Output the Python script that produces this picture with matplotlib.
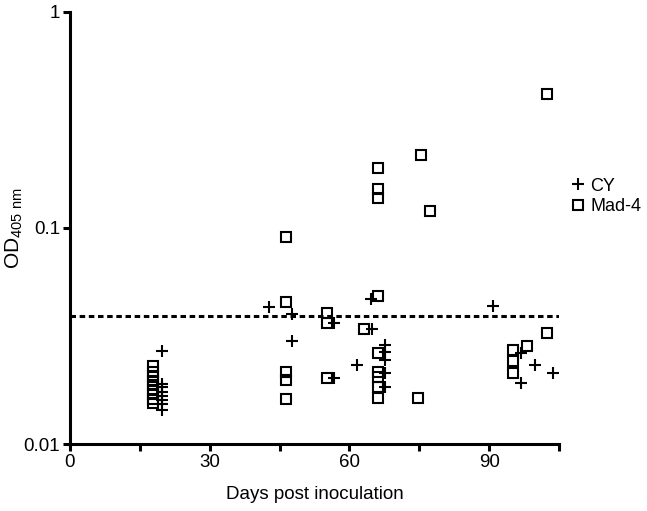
import numpy as np
import matplotlib
matplotlib.use('Agg')
import matplotlib.pyplot as plt

plt.rcParams['font.family'] = ['Liberation Sans', 'DejaVu Sans']

# CY (+) samples: day, OD405
cy_days = [19.8, 19.8, 19.8, 19.8, 19.8, 19.8, 19.8, 19.8,
           42.7, 47.7, 47.7, 56.7, 56.7,
           61.6, 64.7, 64.9, 67.7, 67.7, 67.7, 67.7, 67.7,
           90.8, 96.9, 96.9, 99.9, 103.7]
cy_od = [0.027, 0.019, 0.0184, 0.0175, 0.0167, 0.016, 0.0153, 0.0144,
         0.043, 0.040, 0.030, 0.0363, 0.0202,
         0.0232, 0.047, 0.034, 0.0287, 0.0267, 0.0245, 0.0213, 0.0184,
         0.0435, 0.0264, 0.0192, 0.0232, 0.0213]

# Mad-4 (square) samples
mad_days = [17.8, 17.8, 17.8, 17.8, 17.8, 17.8, 17.8, 17.8, 17.8,
            46.4, 46.4, 46.4, 46.4, 46.4,
            55.2, 55.2, 55.2,
            63.1, 66.2, 66.2, 66.2, 66.2, 66.2, 66.2, 66.2, 66.2, 66.2,
            74.7, 75.4, 77.3,
            95.2, 95.2, 95.2, 98.2, 102.4, 102.4]
mad_od = [0.023, 0.0215, 0.0205, 0.0195, 0.0187, 0.0178, 0.017, 0.0162, 0.0155,
          0.0908, 0.0454, 0.0215, 0.0198, 0.0162,
          0.0404, 0.0363, 0.0202,
          0.034, 0.19, 0.1515, 0.1377, 0.0484, 0.0264, 0.0215, 0.0204, 0.0184, 0.0163,
          0.0163, 0.218, 0.12,
          0.0272, 0.0242, 0.0213, 0.0284, 0.417, 0.0326]

cutoff = 0.039

fig = plt.figure(figsize=(6.47, 5.11), dpi=100)
ax = fig.add_axes([0.108, 0.131, 0.756, 0.846])

ax.plot(cy_days, cy_od, linestyle='none', marker='+', markersize=9,
        markeredgewidth=1.5, color='black', label='CY', clip_on=False)
ax.plot(mad_days, mad_od, linestyle='none', marker='s', markersize=7.5,
        markeredgewidth=1.5, markerfacecolor='none', markeredgecolor='black',
        label='Mad-4', clip_on=False)
ax.plot([0, 105], [cutoff, cutoff], color='black', linewidth=2.2,
        linestyle=(0, (1.8, 1.2)))

ax.set_yscale('log')
ax.set_ylim(0.01, 1)
ax.set_xlim(0, 105)
ax.set_yticks([0.01, 0.1, 1])
ax.set_yticklabels(['0.01', '0.1', '1'])
ax.yaxis.set_minor_locator(matplotlib.ticker.NullLocator())
ax.set_xticks([0, 15, 30, 45, 60, 75, 90, 105])
ax.set_xticklabels(['0', '', '30', '', '60', '', '90', ''])

for s in ['top', 'right']:
    ax.spines[s].set_visible(False)
for s in ['left', 'bottom']:
    ax.spines[s].set_linewidth(2.2)
ax.tick_params(width=2.2, length=5, labelsize=13.5, direction='out', pad=2)

ax.set_xlabel('Days post inoculation', fontsize=13.5, labelpad=11)
ax.set_ylabel('OD$_{\\mathregular{405\\ nm}}$', fontsize=15, labelpad=-1)

ax.legend(loc='center left', bbox_to_anchor=(1.01, 0.573), frameon=False,
          fontsize=13, handlelength=0.8, handletextpad=0.25, labelspacing=0.2,
          borderaxespad=0)

fig.savefig('out.png', dpi=100)
